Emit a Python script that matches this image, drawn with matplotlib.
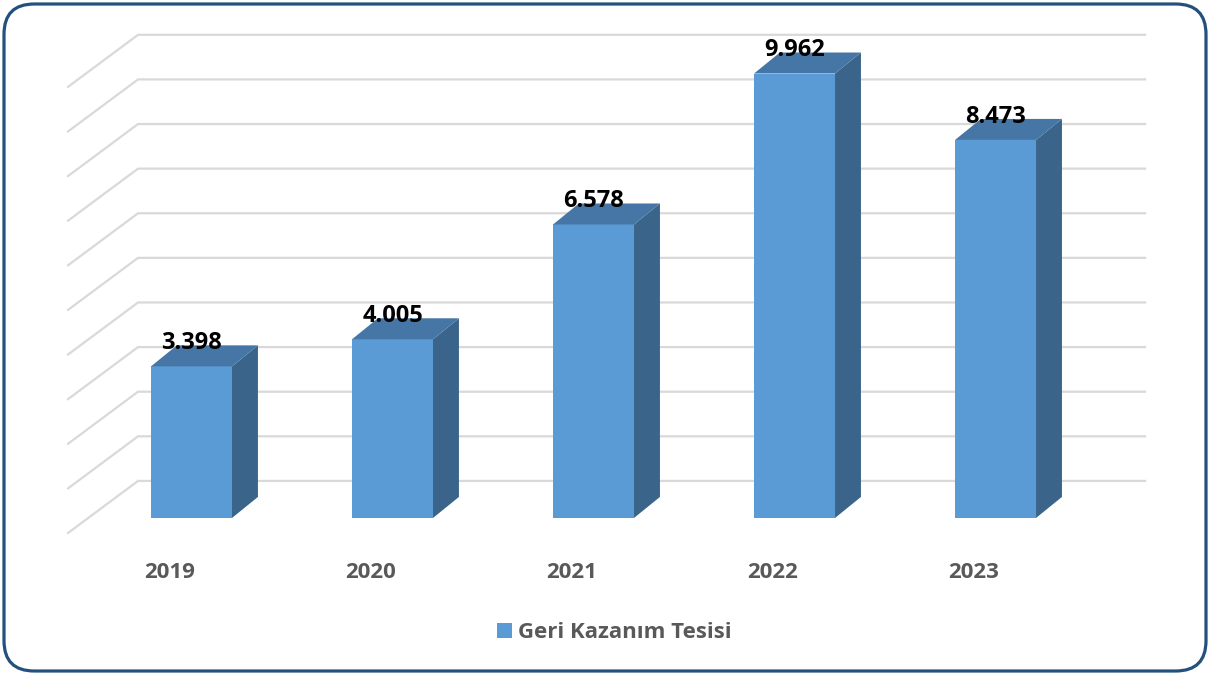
import matplotlib.pyplot as plt
from matplotlib.patches import Polygon, FancyBboxPatch, Rectangle

years = ["2019", "2020", "2021", "2022", "2023"]
values = [3.398, 4.005, 6.578, 9.962, 8.473]
labels = ["3.398", "4.005", "6.578", "9.962", "8.473"]
series_name = "Geri Kazanım Tesisi"
grid_levels = list(range(0, 11))

FRONT = "#5B9BD5"
TOP = "#4676A6"
SIDE = "#3A6489"
GRID = "#D9D9D9"
TXT = "#595959"

plt.rcParams["font.family"] = ["Open Sans", "DejaVu Sans"]

fig = plt.figure(figsize=(12.1, 6.75), dpi=100)
ax = fig.add_axes([0, 0, 1, 1])
ax.set_xlim(-0.9527, 5.067)
ax.set_ylim(-3.52, 11.61)
ax.axis("off")

# perspective offsets (category units / value units)
bar_w = 0.403
bdx, bdy = 0.129, 0.471          # bar depth
wall_front_x, wall_back_x = -0.614, -0.266
wall_right_x = 4.744
front_off, back_off = -0.336, 0.83

# gridlines: left-wall diagonal + back-wall horizontal
for k in grid_levels:
    ax.plot([wall_front_x, wall_back_x, wall_right_x],
            [k + front_off, k + back_off, k + back_off],
            color=GRID, lw=1.6, solid_joinstyle="miter", zorder=1)

for i, v in enumerate(values):
    x0, x1 = i - bar_w / 2, i + bar_w / 2
    ax.bar(i, v, width=bar_w, color=FRONT, zorder=3)
    ax.add_patch(Polygon([(x1, 0), (x1 + bdx, bdy), (x1 + bdx, v + bdy), (x1, v)],
                         closed=True, facecolor=SIDE, edgecolor="none", zorder=3))
    ax.add_patch(Polygon([(x0, v), (x0 + bdx, v + bdy), (x1 + bdx, v + bdy), (x1, v)],
                         closed=True, facecolor=TOP, edgecolor="none", zorder=3))
    ax.text(i, v + bdy - 0.08, labels[i], ha="center", va="baseline",
            fontsize=17, fontweight="bold", color="black", zorder=4)
    ax.text(i - 0.107, -1.23, years[i], ha="center", va="center",
            fontsize=16, fontweight="bold", color=TXT)

# legend
fig.patches.append(Rectangle((497 / 1210, 1 - 638 / 675), 15 / 1210, 15 / 675,
                             transform=fig.transFigure, facecolor=FRONT, edgecolor="none"))
fig.text(518 / 1210, 1 - 632 / 675, series_name, ha="left", va="center",
         fontsize=16, fontweight="bold", color=TXT)

# rounded frame
fig.patches.append(FancyBboxPatch((4 / 1210, 4 / 675), 1202 / 1210, 667 / 675,
                                  boxstyle="round,pad=0,rounding_size=0.025",
                                  transform=fig.transFigure, facecolor="none",
                                  edgecolor="#24507E", lw=2.3, mutation_aspect=1210 / 675))

fig.savefig("out.png", dpi=100)
